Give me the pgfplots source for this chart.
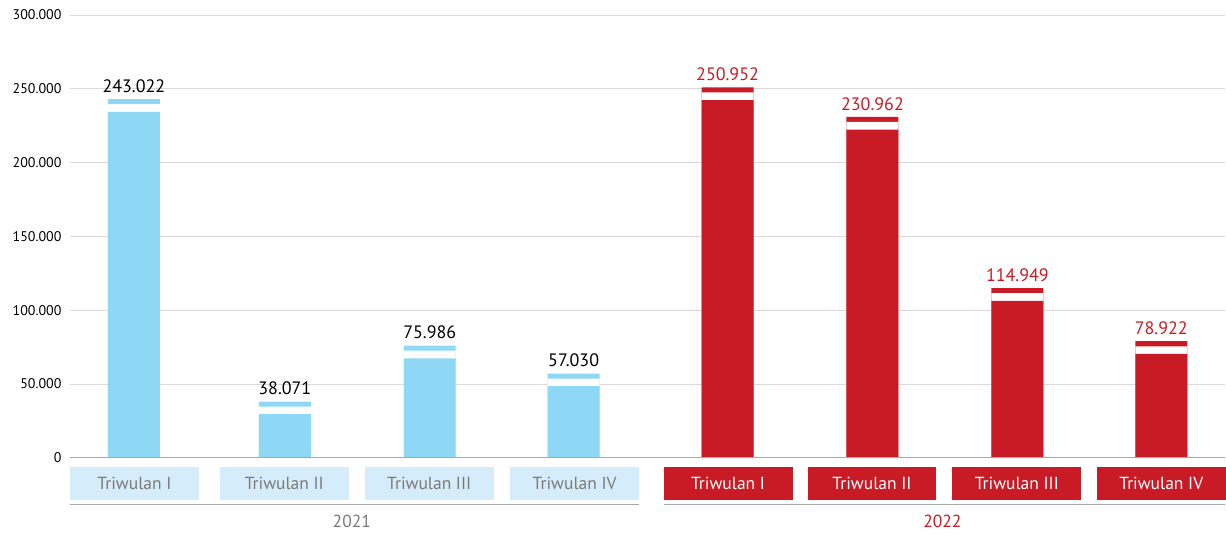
\documentclass[border=0pt]{standalone}
\usepackage{pgfplots}
\pgfplotsset{compat=1.18}
\usepackage{pgfplotstable}
\usepackage{fontspec}
\setmainfont{PT Sans}
\definecolor{lblue}{HTML}{8ED8F6}
\definecolor{boxblue}{HTML}{D5EDFA}
\definecolor{dred}{HTML}{C81B25}
\definecolor{txtgray}{HTML}{7A7A7A}
\definecolor{gridc}{HTML}{DADADA}
\definecolor{zeroc}{HTML}{A8A8A8}
\pgfplotstableread{
x v
134 243022
285 38071
430 75986
574 57030
}\ya
\pgfplotstableread{
x v
728 250952
873 230962
1018 114949
1162 78922
}\yb
\newcommand{\catbox}[4]{\node[fill=#2, text=#3, minimum width=129pt, minimum height=33pt, inner sep=0pt,
        font=\fontsize{17.5}{17.5}\selectfont] at ([yshift=-25.5pt]axis cs:#1,0) {#4};}
\begin{document}
\begin{tikzpicture}
\begin{axis}[
  scale only axis, width=1156pt, height=443pt,
  xmin=70, xmax=1226, ymin=0, ymax=300000,
  xtick=\empty,
  ytick={0,50000,100000,150000,200000,250000,300000},
  scaled y ticks=false,
  /pgf/number format/fixed,
  /pgf/number format/1000 sep={.},
  /pgf/number format/assume math mode=true,
  yticklabel style={font=\fontsize{14}{14}\selectfont, text=black, xshift=-5pt},
  ymajorgrids, grid style={gridc, line width=0.8pt},
  axis line style={draw=none}, major tick length=0pt,
  clip=false,
  every axis plot/.append style={ybar, bar width=52, bar shift=0pt, draw=none},
  nodes near coords style={font=\fontsize{18}{18}\selectfont, anchor=south, yshift=3pt},
]
\coordinate (bl) at (axis cs:70,0);
% 2021
\addplot[fill=lblue, nodes near coords={\pgfmathprintnumber[fixed,precision=0,1000 sep={.},assume math mode=true]{\pgfplotspointmeta}}, nodes near coords style={text=black}] table[x=x,y=v]{\ya};
\addplot[fill=white] table[x=x,y expr=\thisrow{v}-3400]{\ya};
\addplot[fill=lblue] table[x=x,y expr=\thisrow{v}-8600]{\ya};
% 2022
\addplot[fill=dred, nodes near coords={\pgfmathprintnumber[fixed,precision=0,1000 sep={.},assume math mode=true]{\pgfplotspointmeta}}, nodes near coords style={text=dred}] table[x=x,y=v]{\yb};
\addplot[fill=white] table[x=x,y expr=\thisrow{v}-3400]{\yb};
\addplot[fill=dred] table[x=x,y expr=\thisrow{v}-8600]{\yb};
\draw[zeroc, line width=1.5pt] (axis cs:70,0) -- (axis cs:1226,0);
% category boxes
\catbox{134.5}{boxblue}{txtgray}{Triwulan I}
\catbox{284.5}{boxblue}{txtgray}{Triwulan II}
\catbox{429.5}{boxblue}{txtgray}{Triwulan III}
\catbox{575}{boxblue}{txtgray}{Triwulan IV}
\catbox{728.5}{dred}{white}{Triwulan I}
\catbox{872.5}{dred}{white}{Triwulan II}
\catbox{1017.5}{dred}{white}{Triwulan III}
\catbox{1162}{dred}{white}{Triwulan IV}
\draw[zeroc, line width=1.2pt] ([yshift=-47pt]axis cs:70,0) -- ([yshift=-47pt]axis cs:639,0);
\draw[zeroc, line width=1.2pt] ([yshift=-47pt]axis cs:664,0) -- ([yshift=-47pt]axis cs:1226,0);
\node[text=txtgray, font=\fontsize{17.5}{17.5}\selectfont] at ([yshift=-64pt]axis cs:352,0) {2021};
\node[text=dred, font=\fontsize{17.5}{17.5}\selectfont] at ([yshift=-64pt]axis cs:943,0) {2022};
\end{axis}
\path ([xshift=-70pt,yshift=-79pt]bl) rectangle ([xshift=1156pt,yshift=458pt]bl);
\end{tikzpicture}
\end{document}
